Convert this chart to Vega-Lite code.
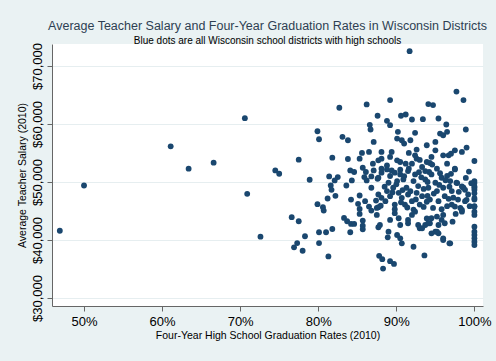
{
  "$schema": "https://vega.github.io/schema/vega-lite/v6.json",
  "width": 431,
  "height": 262,
  "autosize": {"type": "none"},
  "padding": {"left": 52, "top": 44, "right": 13, "bottom": 55},
  "background": "#eaf2f3",
  "title": {
    "text": "Average Teacher Salary and Four-Year Graduation Rates in Wisconsin Districts",
    "subtitle": "Blue dots are all Wisconsin school districts with high schools",
    "anchor": "middle",
    "font": "Liberation Sans",
    "fontSize": 12.5,
    "fontWeight": "normal",
    "color": "#2e3f52",
    "subtitleFont": "Liberation Sans",
    "subtitleFontSize": 10,
    "subtitleColor": "#000000",
    "subtitlePadding": 4,
    "offset": -4
  },
  "config": {
    "view": {"fill": "#ffffff", "stroke": null},
    "axis": {
      "domainColor": "#666666",
      "tickColor": "#666666",
      "labelColor": "#000000",
      "titleColor": "#000000",
      "titleFontWeight": "normal",
      "labelFont": "Liberation Sans Narrow, Liberation Sans",
      "titleFont": "Liberation Sans",
      "labelFontSize": 13,
      "titleFontSize": 10.5,
      "tickSize": 5
    }
  },
  "data": {
    "values": [
      {"grad": 46.9, "salary": 41600}, {"grad": 50.0, "salary": 49400}, {"grad": 61.1, "salary": 56150}, {"grad": 63.4, "salary": 52290},
      {"grad": 66.6, "salary": 53330}, {"grad": 70.6, "salary": 61000}, {"grad": 70.9, "salary": 47960}, {"grad": 72.6, "salary": 40570},
      {"grad": 74.5, "salary": 52000}, {"grad": 75.0, "salary": 51420}, {"grad": 76.6, "salary": 43930}, {"grad": 77.5, "salary": 43230},
      {"grad": 77.5, "salary": 53850}, {"grad": 76.9, "salary": 38730}, {"grad": 77.3, "salary": 39470}, {"grad": 78.0, "salary": 38140},
      {"grad": 82.7, "salary": 62800}, {"grad": 86.2, "salary": 63380}, {"grad": 87.6, "salary": 61420}, {"grad": 86.6, "salary": 59860},
      {"grad": 86.7, "salary": 59050}, {"grad": 79.9, "salary": 58750}, {"grad": 80.1, "salary": 57370}, {"grad": 83.1, "salary": 57780},
      {"grad": 83.8, "salary": 57190}, {"grad": 87.1, "salary": 56910}, {"grad": 81.8, "salary": 54200}, {"grad": 83.8, "salary": 53970},
      {"grad": 85.6, "salary": 55010}, {"grad": 86.5, "salary": 55180}, {"grad": 85.3, "salary": 54020}, {"grad": 87.0, "salary": 53160},
      {"grad": 87.7, "salary": 53730}, {"grad": 78.9, "salary": 50390}, {"grad": 81.4, "salary": 50960}, {"grad": 82.5, "salary": 50850},
      {"grad": 82.1, "salary": 50270}, {"grad": 81.6, "salary": 49400}, {"grad": 81.7, "salary": 48650}, {"grad": 84.1, "salary": 52000},
      {"grad": 84.6, "salary": 51720}, {"grad": 83.6, "salary": 49400}, {"grad": 84.3, "salary": 50270}, {"grad": 85.7, "salary": 52460},
      {"grad": 86.1, "salary": 51720}, {"grad": 85.9, "salary": 50850}, {"grad": 86.2, "salary": 50270}, {"grad": 86.8, "salary": 50960},
      {"grad": 87.1, "salary": 52000}, {"grad": 87.6, "salary": 50560}, {"grad": 86.8, "salary": 49000}, {"grad": 82.2, "salary": 47610},
      {"grad": 81.2, "salary": 47150}, {"grad": 79.9, "salary": 46170}, {"grad": 80.6, "salary": 45660}, {"grad": 80.7, "salary": 45070},
      {"grad": 84.2, "salary": 46970}, {"grad": 85.3, "salary": 47670}, {"grad": 86.0, "salary": 46700}, {"grad": 85.1, "salary": 46230},
      {"grad": 85.3, "salary": 45360}, {"grad": 85.3, "salary": 44500}, {"grad": 86.5, "salary": 45760}, {"grad": 86.8, "salary": 45070},
      {"grad": 87.4, "salary": 46800}, {"grad": 87.7, "salary": 45660}, {"grad": 83.3, "salary": 43800}, {"grad": 83.7, "salary": 43230},
      {"grad": 84.2, "salary": 42770}, {"grad": 84.6, "salary": 42770}, {"grad": 85.7, "salary": 43340}, {"grad": 85.7, "salary": 42470},
      {"grad": 85.7, "salary": 41850}, {"grad": 87.7, "salary": 42190}, {"grad": 80.1, "salary": 41330}, {"grad": 81.0, "salary": 41330},
      {"grad": 81.8, "salary": 41900}, {"grad": 84.1, "salary": 41330}, {"grad": 78.3, "salary": 40640}, {"grad": 80.1, "salary": 39470},
      {"grad": 81.3, "salary": 37170}, {"grad": 87.8, "salary": 37270},
      {"grad": 91.7, "salary": 72560}, {"grad": 89.2, "salary": 64120}, {"grad": 88.8, "salary": 60550}, {"grad": 89.2, "salary": 59790},
      {"grad": 90.6, "salary": 61420}, {"grad": 91.2, "salary": 61640}, {"grad": 92.0, "salary": 60780}, {"grad": 90.2, "salary": 58650},
      {"grad": 90.1, "salary": 57490}, {"grad": 90.7, "salary": 57190}, {"grad": 91.0, "salary": 56620}, {"grad": 91.8, "salary": 57190},
      {"grad": 91.6, "salary": 55010}, {"grad": 88.1, "salary": 55180}, {"grad": 89.4, "salary": 55180}, {"grad": 89.2, "salary": 54320},
      {"grad": 88.1, "salary": 54020}, {"grad": 88.8, "salary": 52860}, {"grad": 88.1, "salary": 52290}, {"grad": 90.1, "salary": 53730},
      {"grad": 90.5, "salary": 53450}, {"grad": 91.2, "salary": 53160}, {"grad": 91.6, "salary": 52290}, {"grad": 89.4, "salary": 52000},
      {"grad": 90.5, "salary": 52120},
      {"grad": 94.1, "salary": 63430}, {"grad": 94.7, "salary": 63260}, {"grad": 93.4, "salary": 60830}, {"grad": 95.4, "salary": 60950},
      {"grad": 96.4, "salary": 59910}, {"grad": 92.4, "salary": 58480}, {"grad": 95.6, "salary": 58350}, {"grad": 96.0, "salary": 58060},
      {"grad": 93.9, "salary": 56330}, {"grad": 95.0, "salary": 56910}, {"grad": 92.6, "salary": 55580}, {"grad": 95.0, "salary": 55460},
      {"grad": 96.0, "salary": 54590}, {"grad": 92.4, "salary": 54590}, {"grad": 94.5, "salary": 54320}, {"grad": 93.9, "salary": 53450},
      {"grad": 92.6, "salary": 54020}, {"grad": 92.0, "salary": 53160}, {"grad": 93.3, "salary": 52590}, {"grad": 95.2, "salary": 52290},
      {"grad": 96.5, "salary": 53160}, {"grad": 94.2, "salary": 51720},
      {"grad": 97.7, "salary": 65580}, {"grad": 98.6, "salary": 64120}, {"grad": 96.5, "salary": 58650}, {"grad": 98.9, "salary": 59050},
      {"grad": 97.5, "salary": 55460}, {"grad": 98.4, "salary": 55180}, {"grad": 99.0, "salary": 55930}, {"grad": 96.7, "salary": 54590},
      {"grad": 97.0, "salary": 54890}, {"grad": 100.0, "salary": 53620}, {"grad": 97.5, "salary": 52290},
      {"grad": 87.7, "salary": 50730}, {"grad": 88.1, "salary": 51600}, {"grad": 88.8, "salary": 52170}, {"grad": 89.2, "salary": 51030},
      {"grad": 89.0, "salary": 49870}, {"grad": 88.8, "salary": 48430}, {"grad": 89.2, "salary": 47560}, {"grad": 88.6, "salary": 46700},
      {"grad": 88.1, "salary": 47270}, {"grad": 87.7, "salary": 47840}, {"grad": 89.6, "salary": 49000}, {"grad": 90.1, "salary": 50160},
      {"grad": 90.5, "salary": 51300}, {"grad": 90.9, "salary": 50440}, {"grad": 90.3, "salary": 48130}, {"grad": 90.7, "salary": 47270},
      {"grad": 91.3, "salary": 49000}, {"grad": 91.5, "salary": 47840}, {"grad": 91.1, "salary": 46110}, {"grad": 92.0, "salary": 46700},
      {"grad": 92.2, "salary": 50160}, {"grad": 92.4, "salary": 51300}, {"grad": 92.8, "salary": 49290}, {"grad": 92.6, "salary": 48130},
      {"grad": 93.3, "salary": 47560}, {"grad": 93.0, "salary": 46110}, {"grad": 93.7, "salary": 50440}, {"grad": 94.1, "salary": 49000},
      {"grad": 94.3, "salary": 46970}, {"grad": 94.5, "salary": 51300}, {"grad": 95.0, "salary": 49870}, {"grad": 95.2, "salary": 48430},
      {"grad": 95.4, "salary": 46700}, {"grad": 95.8, "salary": 50730}, {"grad": 96.0, "salary": 49000}, {"grad": 96.2, "salary": 47560},
      {"grad": 96.5, "salary": 45830}, {"grad": 96.9, "salary": 50160}, {"grad": 97.1, "salary": 48430}, {"grad": 97.5, "salary": 52170},
      {"grad": 97.7, "salary": 49870}, {"grad": 97.9, "salary": 46970}, {"grad": 98.2, "salary": 45530}, {"grad": 98.6, "salary": 49000},
      {"grad": 98.8, "salary": 46700}, {"grad": 99.2, "salary": 47840}, {"grad": 99.4, "salary": 45830}, {"grad": 100.0, "salary": 50160},
      {"grad": 100.0, "salary": 49000}, {"grad": 100.0, "salary": 46970}, {"grad": 100.0, "salary": 45830}, {"grad": 89.8, "salary": 46110},
      {"grad": 87.5, "salary": 45530}, {"grad": 93.7, "salary": 51880}, {"grad": 91.5, "salary": 51880}, {"grad": 89.8, "salary": 51600},
      {"grad": 94.7, "salary": 45530}, {"grad": 92.2, "salary": 45240}, {"grad": 97.1, "salary": 46110}, {"grad": 96.5, "salary": 51030},
      {"grad": 87.5, "salary": 44320}, {"grad": 87.9, "salary": 42590}, {"grad": 89.0, "salary": 41430}, {"grad": 88.9, "salary": 40460},
      {"grad": 89.2, "salary": 43460}, {"grad": 89.8, "salary": 44620}, {"grad": 90.3, "salary": 43750}, {"grad": 90.5, "salary": 42590},
      {"grad": 90.1, "salary": 40860}, {"grad": 90.5, "salary": 40290}, {"grad": 90.7, "salary": 39420}, {"grad": 91.5, "salary": 43460},
      {"grad": 91.5, "salary": 42890}, {"grad": 92.0, "salary": 44320}, {"grad": 92.4, "salary": 44890}, {"grad": 92.2, "salary": 38830},
      {"grad": 92.8, "salary": 42590}, {"grad": 93.0, "salary": 42020}, {"grad": 93.7, "salary": 42590}, {"grad": 94.1, "salary": 42890},
      {"grad": 93.9, "salary": 43720}, {"grad": 94.5, "salary": 43750}, {"grad": 95.2, "salary": 44030}, {"grad": 95.8, "salary": 43460},
      {"grad": 95.4, "salary": 42590}, {"grad": 95.0, "salary": 41430}, {"grad": 95.4, "salary": 41150}, {"grad": 94.5, "salary": 41150},
      {"grad": 96.2, "salary": 42890}, {"grad": 96.0, "salary": 44320}, {"grad": 97.2, "salary": 43160}, {"grad": 96.0, "salary": 39990},
      {"grad": 96.8, "salary": 39420}, {"grad": 93.6, "salary": 37340}, {"grad": 98.4, "salary": 44890}, {"grad": 100.0, "salary": 44320},
      {"grad": 100.0, "salary": 42300}, {"grad": 100.0, "salary": 40860}, {"grad": 100.0, "salary": 40290}, {"grad": 100.0, "salary": 39700},
      {"grad": 100.0, "salary": 39130}, {"grad": 88.2, "salary": 36700}, {"grad": 89.2, "salary": 36350}, {"grad": 89.7, "salary": 35880},
      {"grad": 88.3, "salary": 35070},
      {"grad": 100.0, "salary": 49810}, {"grad": 100.0, "salary": 49220}, {"grad": 100.0, "salary": 48650}, {"grad": 100.0, "salary": 48080},
      {"grad": 100.0, "salary": 47220}, {"grad": 100.0, "salary": 45760}, {"grad": 100.0, "salary": 44890}, {"grad": 100.0, "salary": 41420},
      {"grad": 94.3, "salary": 53280}, {"grad": 97.8, "salary": 49810}, {"grad": 98.4, "salary": 49220}, {"grad": 98.8, "salary": 48650},
      {"grad": 99.0, "salary": 46920}, {"grad": 98.4, "salary": 45190}, {"grad": 97.5, "salary": 45760}, {"grad": 93.3, "salary": 42020},
      {"grad": 94.3, "salary": 42890}, {"grad": 95.2, "salary": 41430}, {"grad": 96.0, "salary": 40290}, {"grad": 96.9, "salary": 39420},
      {"grad": 88.5, "salary": 49200}, {"grad": 89.5, "salary": 48200}, {"grad": 90.0, "salary": 49600}, {"grad": 90.8, "salary": 48600},
      {"grad": 91.8, "salary": 48400}, {"grad": 92.5, "salary": 47000}, {"grad": 93.5, "salary": 48800}, {"grad": 94.0, "salary": 47600},
      {"grad": 94.8, "salary": 48000}, {"grad": 95.5, "salary": 49500}, {"grad": 96.3, "salary": 50300}, {"grad": 96.8, "salary": 49200},
      {"grad": 97.3, "salary": 47300}, {"grad": 98.0, "salary": 48300}, {"grad": 93.2, "salary": 50800}, {"grad": 94.0, "salary": 50000},
      {"grad": 91.0, "salary": 51000}, {"grad": 92.9, "salary": 51700}, {"grad": 95.6, "salary": 51500}, {"grad": 97.0, "salary": 51400},
      {"grad": 89.8, "salary": 45300}, {"grad": 91.4, "salary": 45600}, {"grad": 93.5, "salary": 45700}, {"grad": 95.8, "salary": 45300},
      {"grad": 97.6, "salary": 44500}, {"grad": 90.6, "salary": 46500}, {"grad": 93.9, "salary": 46600}, {"grad": 96.7, "salary": 47100},
      {"grad": 88.0, "salary": 45900}, {"grad": 99.6, "salary": 49800}, {"grad": 98.9, "salary": 50700}, {"grad": 99.3, "salary": 51800},
      {"grad": 94.6, "salary": 53000}, {"grad": 93.0, "salary": 53800}
    ]
  },
  "mark": {"type": "circle", "size": 34, "opacity": 1, "color": "#1a476f", "clip": true},
  "encoding": {
    "x": {
      "field": "grad",
      "type": "quantitative",
      "scale": {"domain": [45.9, 101.1], "nice": false, "zero": false},
      "axis": {
        "values": [50, 60, 70, 80, 90, 100],
        "labelExpr": "datum.value + '%'",
        "grid": false,
        "labelPadding": 4,
        "titlePadding": 2,
        "title": "Four-Year High School Graduation Rates (2010)"
      }
    },
    "y": {
      "field": "salary",
      "type": "quantitative",
      "scale": {"domain": [28620, 73790], "nice": false, "zero": false},
      "axis": {
        "values": [30000, 40000, 50000, 60000, 70000],
        "format": "$,.0f",
        "labelAngle": 270,
        "labelAlign": "center",
        "labelBaseline": "bottom",
        "labelPadding": 3,
        "grid": true,
        "gridColor": "#e6eef0",
        "titlePadding": 4,
        "title": "Average Teacher Salary (2010)"
      }
    }
  }
}
